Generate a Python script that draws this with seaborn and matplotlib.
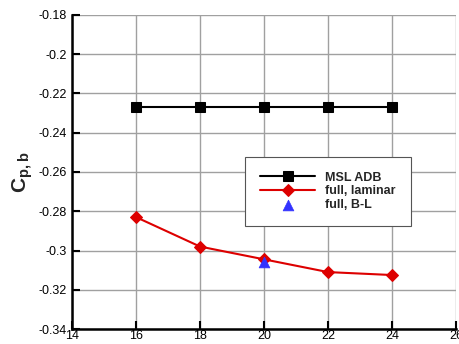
import numpy as np
import pandas as pd
import matplotlib
matplotlib.use("Agg")
import matplotlib.pyplot as plt
import seaborn as sns

# Base pressure coefficient versus condition index
x_vals = [16, 18, 20, 22, 24]
msl_adb = [-0.227, -0.227, -0.227, -0.227, -0.227]
full_laminar = [-0.283, -0.298, -0.3045, -0.311, -0.3125]
bl_x = [20]
full_bl = [-0.306]

x_ticks = [14, 16, 18, 20, 22, 24, 26]
y_ticks = [-0.34, -0.32, -0.3, -0.28, -0.26, -0.24, -0.22, -0.2, -0.18]
y_tick_labels = ["-0.34", "-0.32", "-0.3", "-0.28", "-0.26", "-0.24", "-0.22", "-0.2", "-0.18"]

sns.set_theme(style="white")
plt.rcParams["font.family"] = ["Liberation Sans", "DejaVu Sans"]
plt.rcParams["mathtext.fontset"] = "custom"
plt.rcParams["mathtext.rm"] = "Liberation Sans"
plt.rcParams["mathtext.bf"] = "Liberation Sans:bold"

fig = plt.figure(figsize=(4.59, 3.44), dpi=100)
ax = fig.add_axes([0.157, 0.0436, 0.8365, 0.9128])

df_adb = pd.DataFrame({"x": x_vals, "y": msl_adb})
df_lam = pd.DataFrame({"x": x_vals, "y": full_laminar})
df_bl = pd.DataFrame({"x": bl_x, "y": full_bl})

sns.lineplot(data=df_adb, x="x", y="y", ax=ax, color="black", lw=1.5,
             marker="s", markersize=6.5, markeredgecolor="black",
             label="MSL ADB")
sns.lineplot(data=df_lam, x="x", y="y", ax=ax, color="#dd0000", lw=1.5,
             marker="D", markersize=6.5, markeredgecolor="#dd0000",
             label="full, laminar")
sns.scatterplot(data=df_bl, x="x", y="y", ax=ax, color="#3333ff",
                marker="^", s=60, edgecolor="#3333ff", linewidth=0.5,
                label="full, B-L", zorder=4)

ax.set_xlim(14, 26)
ax.set_ylim(-0.34, -0.18)
ax.set_xticks(x_ticks)
ax.set_yticks(y_ticks)
ax.set_yticklabels(y_tick_labels)
ax.grid(True, color="#a0a0a0", lw=1)
ax.set_axisbelow(True)

for side in ["top", "right"]:
    ax.spines[side].set_visible(False)
for side in ["left", "bottom"]:
    ax.spines[side].set_color("black")
    ax.spines[side].set_linewidth(1.8)

ax.tick_params(axis="both", direction="in", length=6, width=1.5,
               colors="black", labelsize=9, left=True, bottom=True)
ax.tick_params(axis="x", pad=1)
ax.tick_params(axis="y", pad=3.5)
ax.set_xlabel("")
ax.set_ylabel(r"$\mathbf{C_{p,b}}$", fontsize=15, labelpad=3)

leg = ax.legend(loc="center", bbox_to_anchor=(0.667, 0.438), frameon=True,
                fancybox=False, edgecolor="#555555", framealpha=1,
                prop={"weight": "bold", "size": 9}, handlelength=4.4,
                borderpad=1.2, labelspacing=0.15, handletextpad=0.8)
leg.get_frame().set_linewidth(0.8)

fig.savefig("out.png", dpi=100)
